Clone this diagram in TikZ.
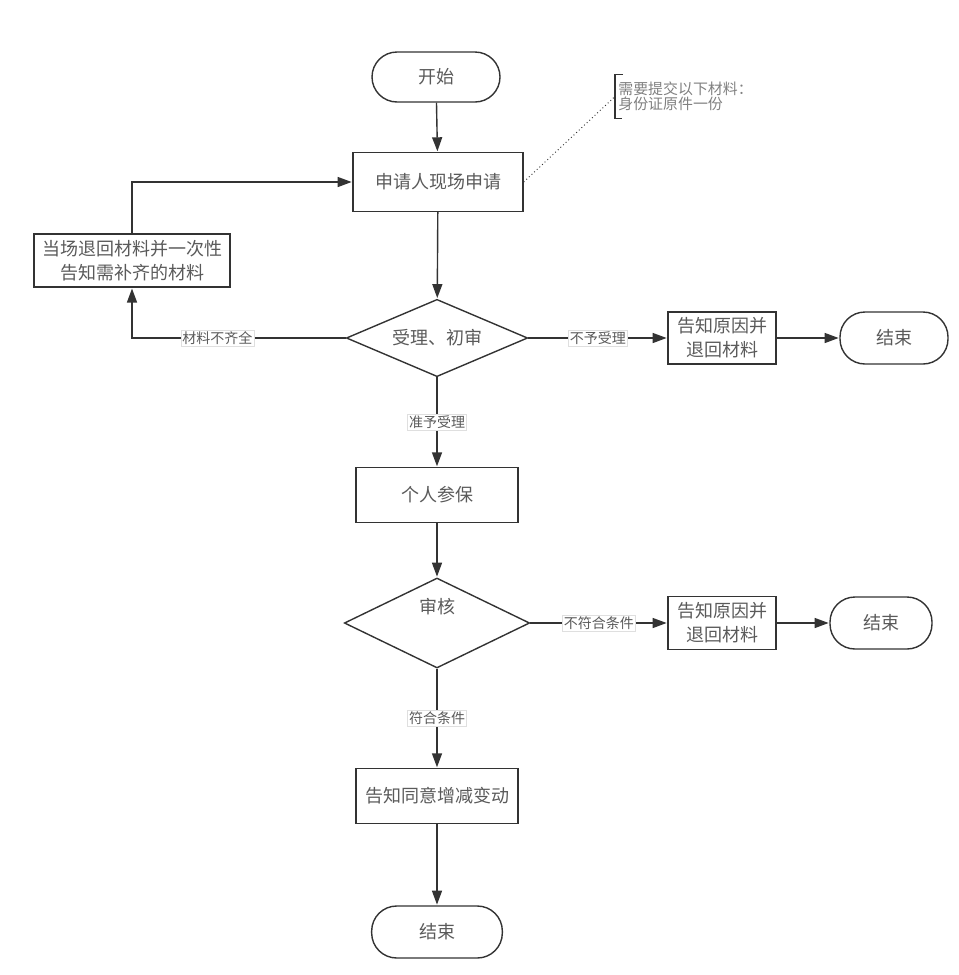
\documentclass[tikz,border=0pt]{standalone}
\usepackage{fontspec}
\setmainfont{Noto Sans CJK SC}
\usetikzlibrary{shapes,arrows.meta,positioning,calc}
\definecolor{linegray}{HTML}{333333}
\definecolor{textgray}{HTML}{5A5A5A}

\begin{document}
\begin{tikzpicture}[x=0.75pt, y=-0.75pt, on grid, shorten >=0.5pt,
  >={Triangle[length=10.5pt,width=7.5pt]}, line width=1.05pt, draw=linegray,
  every node/.style={text=textgray, font=\fontsize{13.5}{18}\selectfont},
  terminal/.style={draw=linegray, rectangle, rounded corners=18.75pt, minimum width=96pt, minimum height=37.5pt},
  process/.style={draw=linegray, rectangle, align=center, inner ysep=1pt, minimum height=41pt},
  decision/.style={draw=linegray, diamond, shape aspect=2, inner sep=1pt, minimum width=136pt, minimum height=58pt},
  tag/.style={fill=white, draw=gray!25, line width=0.4pt, inner sep=1pt, font=\fontsize{10.5}{12}\selectfont}]

  \useasboundingbox (0,0) rectangle (959,975);

  % Main column
  \node[terminal] (start) at (436,77) {开始};
  \node[process, minimum width=127.5pt, minimum height=44pt] (apply) at (438,182) {申请人现场申请};
  \node[decision] (d1) at (437,338) {受理、初审};
  \node[process, minimum width=121.5pt] (p1) at (437,495) {个人参保};
  \node[decision, minimum width=139pt, minimum height=67.5pt, text depth=25pt] (d2) at (437,623) {审核};
  \node[process, minimum width=121.5pt] (notify) at (437,796) {告知同意增减变动};
  \node[terminal, minimum width=98pt, minimum height=39pt] (end3) at (437,932) {结束};

  % Side branches
  \node[process, minimum width=147pt, minimum height=40pt] (back) at (132,260.5) {当场退回材料并一次性\\告知需补齐的材料};
  \node[process, minimum width=81pt, minimum height=39pt] (reject1) [right=213.75pt of d1] {告知原因并\\退回材料};
  \node[terminal, minimum width=81pt, minimum height=39pt] (end1) [right=129pt of reject1] {结束};
  \node[process, minimum width=81pt, minimum height=40pt] (reject2) [right=213.75pt of d2] {告知原因并\\退回材料};
  \node[terminal, minimum width=76.5pt, minimum height=39pt] (end2) [right=119.25pt of reject2] {结束};

  % Annotation
  \node[anchor=west, align=left, inner sep=2pt, minimum height=32pt, text=gray,
        font=\fontsize{11.2}{11.5}\selectfont] (note) at (615,96.5) {需要提交以下材料：\\身份证原件一份};

  % Arrows
  \draw[->] (start) -- (apply);
  \draw[->] (apply) -- (d1);
  \draw[->] (d1) -- node[tag] {不予受理} (reject1);
  \draw[->] (reject1) -- (end1);
  \draw[->] (d1) -- node[tag] {准予受理} (p1);
  \draw[->] (p1) -- (d2);
  \draw[->] (d2) -- node[tag] {不符合条件} (reject2);
  \draw[->] (reject2) -- (end2);
  \draw[->] (d2) -- node[tag] {符合条件} (notify);
  \draw[->] (notify) -- (end3);
  \draw[->] (d1) -| node[tag, pos=0.3] {材料不齐全} (back);
  \draw[->] (back) |- (apply);

  % Annotation link
  \draw[dotted, line width=0.7pt] (apply.east) -- (note.west);
  \draw[line width=0.8pt] ([xshift=6pt]note.north west) -- (note.north west)
    -- (note.south west) -- ([xshift=6pt]note.south west);

\end{tikzpicture}
\end{document}
